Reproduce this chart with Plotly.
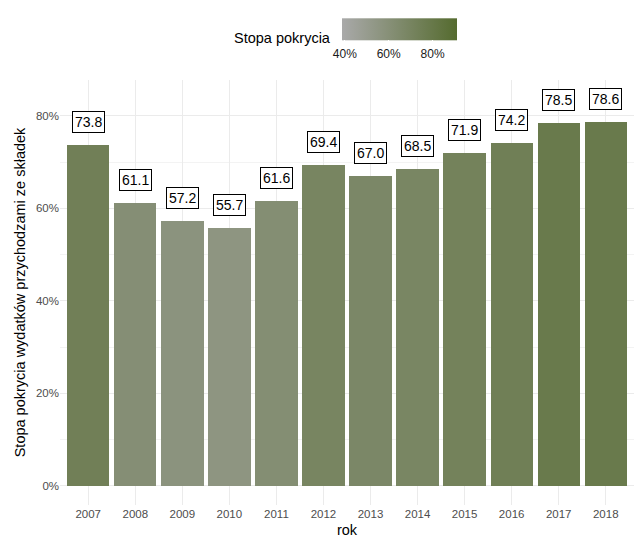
import plotly.graph_objects as go

years = [2007, 2008, 2009, 2010, 2011, 2012, 2013, 2014, 2015, 2016, 2017, 2018]
coverage = [73.8, 61.1, 57.2, 55.7, 61.6, 69.4, 67.0, 68.5, 71.9, 74.2, 78.5, 78.6]
y_ticks = [0, 20, 40, 60, 80]
y_ticklabels = ["0%", "20%", "40%", "60%", "80%"]
cb_ticks = [40, 60, 80]
cb_ticklabels = ["40%", "60%", "80%"]

FONT = "Liberation Sans, Arial, sans-serif"
LABEL_NUDGE = 5

fig = go.Figure()
fig.add_trace(go.Bar(
    x=years, y=coverage, width=0.9,
    marker=dict(
        color=coverage,
        colorscale=[[0, "#A9A9A9"], [1, "#556B2F"]],
        cmin=38.6, cmax=91,
        line=dict(width=0),
        showscale=True,
        colorbar=dict(
            orientation="h",
            x=0.591, xanchor="center",
            y=1.094, yanchor="middle",
            lenmode="pixels", len=135,
            thickness=22,
            outlinewidth=0,
            tickvals=cb_ticks, ticktext=cb_ticklabels,
            ticks="outside", tickcolor="white", ticklen=4,
            tickfont=dict(family=FONT, size=12, color="#1A1A1A"),
            title=dict(text=""),
        ),
    ),
    hoverinfo="x+y",
))

for yr, v in zip(years, coverage):
    fig.add_annotation(
        x=yr, y=v + LABEL_NUDGE, text=f"{v:.1f}", showarrow=False,
        font=dict(family=FONT, size=14, color="black"),
        bgcolor="white", bordercolor="black", borderwidth=1, borderpad=2,
        xanchor="center", yanchor="middle",
    )

fig.add_annotation(
    xref="paper", yref="paper", x=(333 - 60) / 574, y=(505 - 38) / 425,
    text="Stopa pokrycia", showarrow=False, xanchor="right", yanchor="middle",
    font=dict(family=FONT, size=14.5, color="black"),
)

fig.update_layout(
    width=643, height=550,
    margin=dict(l=60, r=9, t=80, b=45, autoexpand=False),
    plot_bgcolor="white", paper_bgcolor="white",
    font=dict(family=FONT),
    showlegend=False,
    bargap=0,
    xaxis=dict(
        range=[2006.4, 2018.6], automargin=False,
        tickvals=years, ticktext=[str(y) for y in years],
        showgrid=True, gridcolor="#EBEBEB", gridwidth=1,
        zeroline=False, showline=False, ticks="",
        tickfont=dict(family=FONT, size=11.5, color="#4D4D4D"),
        title=dict(text="rok", font=dict(family=FONT, size=14.5, color="black"), standoff=6),
    ),
    yaxis=dict(
        range=[-4.18, 87.78], automargin=False,
        tickvals=y_ticks, ticktext=y_ticklabels,
        showgrid=True, gridcolor="#EBEBEB", gridwidth=1,
        minor=dict(dtick=10, tick0=0, showgrid=True, gridcolor="#F3F3F3", gridwidth=0.6),
        zeroline=False, showline=False, ticks="",
        tickfont=dict(family=FONT, size=11.5, color="#4D4D4D"),
        title=dict(text="Stopa pokrycia wydatków przychodzami ze składek",
                   font=dict(family=FONT, size=14.5, color="black"), standoff=6),
    ),
)

fig.write_html("out.html", config={"displayModeBar": False},
               post_script="document.body.style.margin='0';")
